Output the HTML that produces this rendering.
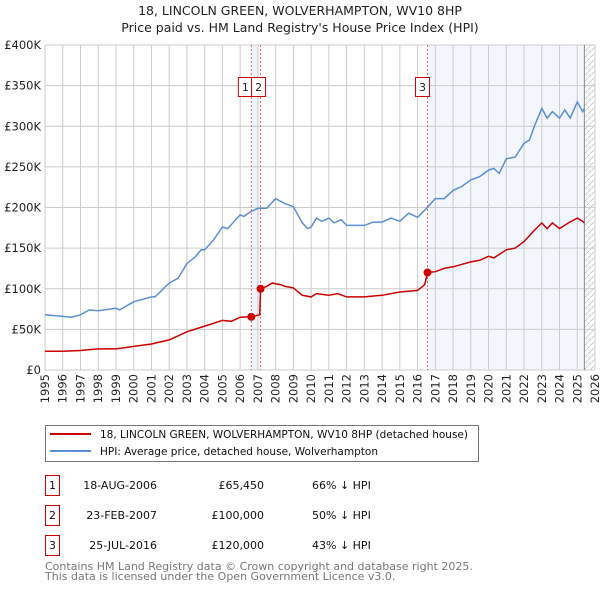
<!DOCTYPE html>
<html><head><meta charset="utf-8"><style>
body{margin:0;background:#fff;}
svg{display:block;font-family:"DejaVu Sans","Liberation Sans",sans-serif;}
</style></head><body>
<svg id="chart" width="600" height="590" viewBox="0 0 600 590">
<text x="300" y="15" text-anchor="middle" font-size="12.5" fill="#222">18, LINCOLN GREEN, WOLVERHAMPTON, WV10 8HP</text>
<text x="300" y="32" text-anchor="middle" font-size="12.5" fill="#222">Price paid vs. HM Land Registry's House Price Index (HPI)</text>
<g id="plot"></g>
<g>
<rect x="45.5" y="425.5" width="433" height="36" fill="#fff" stroke="#777"/>
<line x1="50" y1="434" x2="91" y2="434" stroke="#cc0000" stroke-width="2"/>
<text x="100" y="438" font-size="11" fill="#111" textLength="368" lengthAdjust="spacingAndGlyphs">18, LINCOLN GREEN, WOLVERHAMPTON, WV10 8HP (detached house)</text>
<line x1="50" y1="451" x2="91" y2="451" stroke="#5b8fd4" stroke-width="2"/>
<text x="100" y="455" font-size="11" fill="#111" textLength="278" lengthAdjust="spacingAndGlyphs">HPI: Average price, detached house, Wolverhampton</text>
</g>
<g id="table" font-size="11" fill="#111"></g>
<text x="45" y="570" font-size="11" fill="#777">Contains HM Land Registry data © Crown copyright and database right 2025.</text>
<text x="45" y="580" font-size="11" fill="#777">This data is licensed under the Open Government Licence v3.0.</text>
</svg>
<script>
const hpiYears=[1995,1996,1996.5,1997,1997.5,1998,1999,1999.2,2000,2001,2001.2,2002,2002.5,2003,2003.5,2003.8,2004,2004.5,2005,2005.3,2006,2006.2,2006.6,2007,2007.5,2008,2008.5,2009,2009.5,2009.8,2010,2010.3,2010.6,2011,2011.3,2011.7,2012,2013,2013.5,2014,2014.5,2015,2015.5,2016,2016.5,2017,2017.5,2018,2018.5,2019,2019.5,2020,2020.3,2020.6,2021,2021.5,2022,2022.3,2022.6,2023,2023.3,2023.6,2024,2024.3,2024.6,2025,2025.3,2025.4];
const hpiValues=[68,66,65,68,74,73,76,74,84,90,90,107,113,131,140,148,148,160,176,174,191,189,195,199,199,211,205,201,181,174,176,187,183,187,181,185,178,178,182,182,187,183,193,188,199,211,211,221,226,234,238,246,248,242,260,262,279,283,301,322,310,318,310,320,310,330,318,322];
const propYears=[1995,1996,1997,1998,1999,2000,2001,2002,2003,2004,2005,2005.5,2006,2006.63,2007.1,2007.15,2007.5,2007.8,2008.3,2008.5,2009,2009.5,2010,2010.3,2011,2011.5,2012,2013,2014,2014.5,2015,2016,2016.4,2016.56,2017,2017.5,2018,2019,2019.5,2020,2020.3,2021,2021.5,2022,2022.5,2023,2023.3,2023.6,2024,2024.5,2025,2025.3,2025.4];
const propValues=[23,23,24,26,26,29,32,37,47,54,61,60,65,65.45,68,100,103,107,105,103,101,92,90,94,92,94,90,90,92,94,96,98,105,120,121,125,127,133,135,140,138,148,150,158,170,181,174,181,174,181,187,183,181];
const saleLabels=["1","2","3"];
const saleYears=[2006.63,2007.15,2016.56];
const saleValues=[65.45,100,120];
const saleDates=["18-AUG-2006","23-FEB-2007","25-JUL-2016"];
const salePrices=["£65,450","£100,000","£120,000"];
const saleDiffs=["66% ↓ HPI","50% ↓ HPI","43% ↓ HPI"];
const yTicks=[0,50,100,150,200,250,300,350,400];
const yTickLabels=["£0","£50K","£100K","£150K","£200K","£250K","£300K","£350K","£400K"];
const xTicks=[];for(let y=1995;y<=2026;y++)xTicks.push(y);
const dataEnd=2025.4;

const NS="http://www.w3.org/2000/svg";
const L=45,R=595,T=45,B=370;
const X=v=>L+(v-1995)/(2026-1995)*(R-L);
const Y=v=>B-v/400*(B-T);
const plot=document.getElementById('plot');
function mk(tag,attrs,parent){const e=document.createElementNS(NS,tag);for(const k in attrs)e.setAttribute(k,attrs[k]);(parent||plot).appendChild(e);return e;}

let s1=mk('rect',{x:X(saleYears[0]),y:T,width:X(saleYears[1])-X(saleYears[0]),height:B-T,fill:'#eef3fc'});


let s2=mk('rect',{x:X(saleYears[2]),y:T,width:X(dataEnd)-X(saleYears[2]),height:B-T,fill:'#f3f6fd'});


const defs=mk('defs',{});
const pat=mk('pattern',{id:'hatch',width:6,height:6,patternUnits:'userSpaceOnUse'},defs);
mk('path',{d:'M0,6 L6,0',stroke:'#bbb','stroke-width':0.7},pat);
let h=mk('rect',{x:X(dataEnd),y:T,width:R-X(dataEnd),height:B-T,fill:'url(#hatch)'});


yTicks.forEach((t,i)=>{
 let g=mk('line',{x1:L,x2:R,y1:Y(t),y2:Y(t),stroke:'#cccccc','stroke-width':1});
 
 
 let tx=mk('text',{x:41,y:Y(t)+4,'text-anchor':'end','font-size':11.5,fill:'#222'});
 tx.textContent=yTickLabels[i];
 
 
});
xTicks.forEach(t=>{
 let g=mk('line',{x1:X(t),x2:X(t),y1:T,y2:B,stroke:'#cccccc','stroke-width':1});
 
 
 let tx=mk('text',{x:0,y:0,'text-anchor':'end','font-size':11.5,fill:'#222',transform:`translate(${X(t)+4},${B+4}) rotate(-90)`});
 tx.textContent=t;
 
 
});
let ax=mk('line',{x1:X(dataEnd),x2:X(dataEnd),y1:T,y2:B,stroke:'#888','stroke-width':1});


saleYears.forEach((sy,i)=>{
 let v=mk('line',{x1:X(sy),x2:X(sy),y1:T,y2:B,stroke:'#e8606a','stroke-width':1,'stroke-dasharray':'2,2'});
 
 
});
function path(xs,vs){return xs.map((x,i)=>(i?'L':'M')+X(x).toFixed(1)+','+Y(vs[i]).toFixed(1)).join(' ');}
let hp=mk('path',{d:path(hpiYears,hpiValues),fill:'none',stroke:'#5b8fd4','stroke-width':1.5});


let pp=mk('path',{d:path(propYears,propValues),fill:'none',stroke:'#cc0000','stroke-width':1.5});


saleYears.forEach((sy,i)=>{
 let c=mk('circle',{cx:X(sy),cy:Y(saleValues[i]),r:4,fill:'#cc0000'});
 
 
});
const boxX=[X(saleYears[0])-6,X(saleYears[1])-2,X(saleYears[2])-5];
saleYears.forEach((sy,i)=>{
 let g=mk('g',{});
 
 
 mk('rect',{x:boxX[i]-7,y:77.5,width:14,height:19,fill:'#fff',stroke:'#cc0000','stroke-width':1},g);
 let t=mk('text',{x:boxX[i],y:91,'text-anchor':'middle','font-size':11,fill:'#222'},g);
 t.textContent=saleLabels[i];
});
const tbl=document.getElementById('table');
saleLabels.forEach((lb,i)=>{
 const y=475+i*30;
 let g=mk('g',{},tbl);
 
 
 mk('rect',{x:45.5,y:y+0.5,width:14,height:20,fill:'#fff',stroke:'#cc0000','stroke-width':1},g);
 let a=mk('text',{x:52.5,y:y+14,'text-anchor':'middle'},g);a.textContent=lb;
 let b=mk('text',{x:157,y:y+14,'text-anchor':'end'},g);b.textContent=saleDates[i];
 let c=mk('text',{x:264,y:y+14,'text-anchor':'end'},g);c.textContent=salePrices[i];
 let d=mk('text',{x:312,y:y+14},g);d.textContent=saleDiffs[i];
});
</script>
</body></html>
